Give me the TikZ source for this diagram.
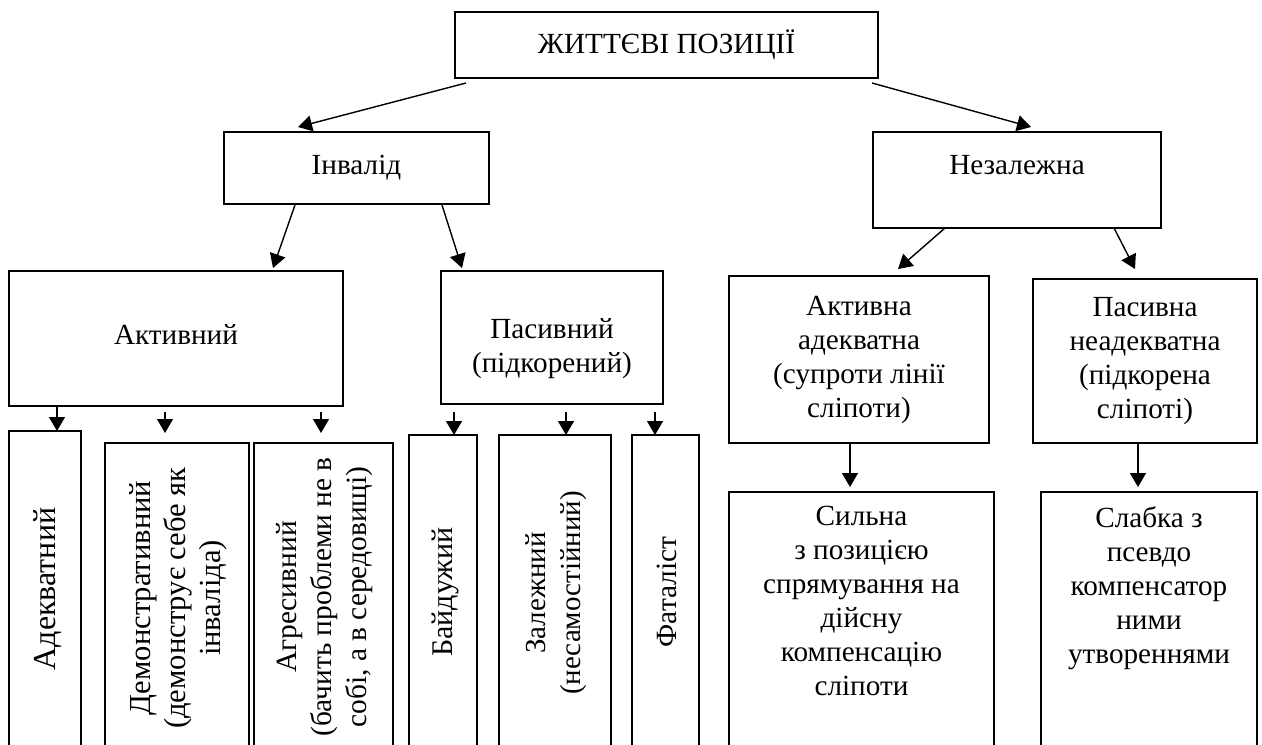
\documentclass[tikz,border=0pt]{standalone}
\usepackage{fontspec}
\setmainfont{Liberation Serif}
\usetikzlibrary{arrows.meta}
\begin{document}
\begin{tikzpicture}[x=0.5pt,y=-0.5pt,
 box/.style={draw, line width=1pt, inner sep=0pt, outer sep=0pt},
 txt/.style={font=\fontsize{14.6}{17}\selectfont, align=center, inner sep=0pt},
 vtxt/.style={font=\fontsize{#1}{17.5}\selectfont, align=center, inner sep=0pt, rotate=90},
 arr/.style={line width=0.7pt, -{Triangle[length=7pt,width=8pt]}}]
\useasboundingbox (0,0) rectangle (1262,744);
\clip (0,0) rectangle (1262,744);
% level 0
\node[box, txt, minimum width=211.5pt, minimum height=33pt] (top) at (666.5,45) {ЖИТТЄВІ ПОЗИЦІЇ};
% level 1
\node[box, txt, minimum width=132.5pt, minimum height=36pt] (inv) at (356.5,168) {Інвалід};
\node[box, minimum width=144pt, minimum height=48pt] (nez) at (1017,180) {};
\node[txt] (nezt) at (1017,165) {Незалежна};
% level 2
\node[box, minimum width=167pt, minimum height=67.5pt] (akt) at (176,338.5) {};
\node[txt] (aktt) at (176,334) {Активний};
\node[box, minimum width=111pt, minimum height=66.5pt] (pas) at (552,337.5) {};
\node[txt] (past) at (552,349) {Пасивний\\(підкорений)};
\node[box, txt, minimum width=130pt, minimum height=83.5pt] (akta) at (859,359.5) {Активна\\адекватна\\(супроти лінії\\сліпоти)};
\node[box, txt, minimum width=112pt, minimum height=82pt] (pasn) at (1145,361) {Пасивна\\неадекватна\\(підкорена\\сліпоті)};
% level 3 boxes
\node[box, minimum width=36pt, minimum height=184.5pt] (ad) at (45,615.5) {};
\node[box, minimum width=72pt, minimum height=178.5pt] (dem) at (177,621.5) {};
\node[box, minimum width=69.5pt, minimum height=178.5pt] (agr) at (323.5,621.5) {};
\node[box, minimum width=34pt, minimum height=182.5pt] (bay) at (443,617.5) {};
\node[box, minimum width=56pt, minimum height=182.5pt] (zal) at (555,617.5) {};
\node[box, minimum width=33.5pt, minimum height=182.5pt] (fat) at (665.5,617.5) {};
\node[box, minimum width=132.5pt, minimum height=154pt] (syl) at (861.5,646) {};
\node[box, minimum width=108pt, minimum height=154pt] (slab) at (1149,646) {};
% level 3 texts
\node[vtxt=16] (adt) at (48,589) {Адекватний};
\node[vtxt=15.3] (demt) at (178,598) {Демонстративний\\(демонструє себе як\\інваліда)};
\node[vtxt=14.7] (agrt) at (325,597) {Агресивний\\(бачить проблеми не в\\собі, а в середовищі)};
\node[vtxt=15] (bayt) at (445,592) {Байдужий};
\node[vtxt=14.5] (zalt) at (556,593) {Залежний\\(несамостійний)};
\node[vtxt=14.7] (fatt) at (667,592) {Фаталіст};
\node[txt, anchor=north] (sylt) at (861.5,506) {Сильна\\з позицією\\спрямування на\\дійсну\\компенсацію\\сліпоти};
\node[txt, anchor=north] (slabt) at (1149,506) {Слабка з\\псевдо\\компенсатор\\ними\\утвореннями};
% arrows
\draw[arr] ([shift={(11,5)}]top.south west) -- ([shift={(74,-5)}]inv.north west);
\draw[arr] ([shift={(-6,5)}]top.south east) -- ([shift={(158,-5)}]nez.north west);
\draw[arr] ([shift={(71,1)}]inv.south west) -- ([shift={(264,-3)}]akt.north west);
\draw[arr] ([shift={(218,1)}]inv.south west) -- ([shift={(21,-3)}]pas.north west);
\draw[arr] ([shift={(72,0)}]nez.south west) -- ([shift={(169,-7)}]akta.north west);
\draw[arr] ([shift={(241,0)}]nez.south west) -- ([shift={(102,-10)}]pasn.north west);
\draw[arr] ([shift={(48,0)}]akt.south west) -- ([shift={(48,0)}]ad.north west);
\draw[arr] ([shift={(60,-31)}]dem.north west) -- ([shift={(60,-10)}]dem.north west);
\draw[arr] ([shift={(67,-31)}]agr.north west) -- ([shift={(67,-10)}]agr.north west);
\draw[arr] ([shift={(45,-23)}]bay.north west) -- ([shift={(45,0)}]bay.north west);
\draw[arr] ([shift={(67,-23)}]zal.north west) -- ([shift={(67,0)}]zal.north west);
\draw[arr] ([shift={(23,-23)}]fat.north west) -- ([shift={(23,0)}]fat.north west);
\draw[arr] ([shift={(121,0)}]akta.south west) -- ([shift={(121,-5)}]syl.north west);
\draw[arr] ([shift={(105,0)}]pasn.south west) -- ([shift={(97,-5)}]slab.north west);
\end{tikzpicture}
\end{document}
